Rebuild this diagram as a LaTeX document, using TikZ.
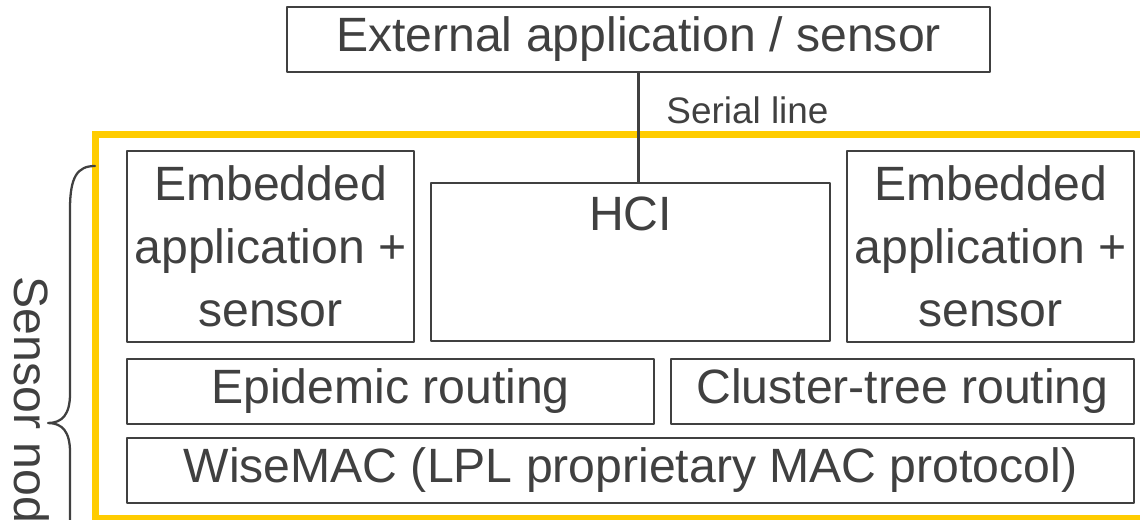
\documentclass[tikz,border=0pt]{standalone}
\usepackage{fontspec}
\setmainfont{Liberation Sans}
\usetikzlibrary{positioning}
\definecolor{ink}{HTML}{404040}
\definecolor{frameyellow}{HTML}{FFCC00}

\begin{document}
\begin{tikzpicture}[
  line cap=round,
  line join=round,
  block/.style={
    draw=ink,
    line width=1.3pt,
    fill=white,
    minimum height=1.30cm,
    align=center,
    text=ink,
    font=\fontsize{27.4}{35.7}\selectfont,
    inner sep=2pt
  },
  tallblock/.style={
    block,
    minimum height=3.82cm
  },
  blocktext/.style={
    text=ink,
    font=\fontsize{27.4}{35.7}\selectfont,
    inner sep=0pt
  },
  linelabel/.style={
    text=ink,
    font=\fontsize{21}{25}\selectfont,
    inner sep=0pt
  },
  frame/.style={
    draw=frameyellow,
    line width=4pt,
    line join=miter
  },
  link/.style={
    draw=ink,
    line width=1.3pt
  }
]

\clip (0,0) rectangle (22.8,10.38);

% ------------------------------------------------
% Outside the node
% ------------------------------------------------
\node[block, minimum width=14.06cm] (ext) at (12.77,9.59)
{External application / sensor};

% ------------------------------------------------
% Sensor node
% ------------------------------------------------
\draw[frame] (1.91,7.69) rectangle (23.6,0.01);

\node[tallblock, minimum width=5.74cm] (embleft) at (5.41,5.45)
{Embedded\\application +\\sensor};

\node[block, minimum width=7.98cm, minimum height=3.16cm] (hci) at (12.61,5.14)
{};
\node[blocktext, below=0.30cm of hci.north] (hcilabel)
{HCI};

\node[tallblock, minimum width=5.74cm] (embright) at (19.81,5.45)
{Embedded\\application +\\sensor};

\node[block, minimum width=10.54cm] (epidemic) at (7.81,2.55)
{Epidemic routing};

\node[block, minimum width=9.26cm] (cluster) at (18.05,2.55)
{Cluster-tree routing};

\node[block, minimum width=20.14cm] (wisemac) at (12.61,0.97)
{WiseMAC (LPL proprietary MAC protocol)};

% Serial line runs straight down into the top of HCI.
\draw[link] (ext.south) -- (ext.south |- hci.north);
\node[linelabel] (serial) at (14.95,8.17)
{Serial line};

% Brace and rotated caption on the left.
\draw[link]
  (1.90,7.06) .. controls (1.55,7.06) and (1.40,6.85) .. (1.40,6.20)
  -- (1.40,2.50)
  .. controls (1.40,2.10) and (1.25,1.92) .. (0.96,1.92)
  .. controls (1.25,1.92) and (1.40,1.74) .. (1.40,1.34)
  -- (1.40,-2.40);

\node[blocktext, rotate=-90, anchor=west] (sensornode) at (0.63,4.85)
{Sensor node};

\end{tikzpicture}
\end{document}
